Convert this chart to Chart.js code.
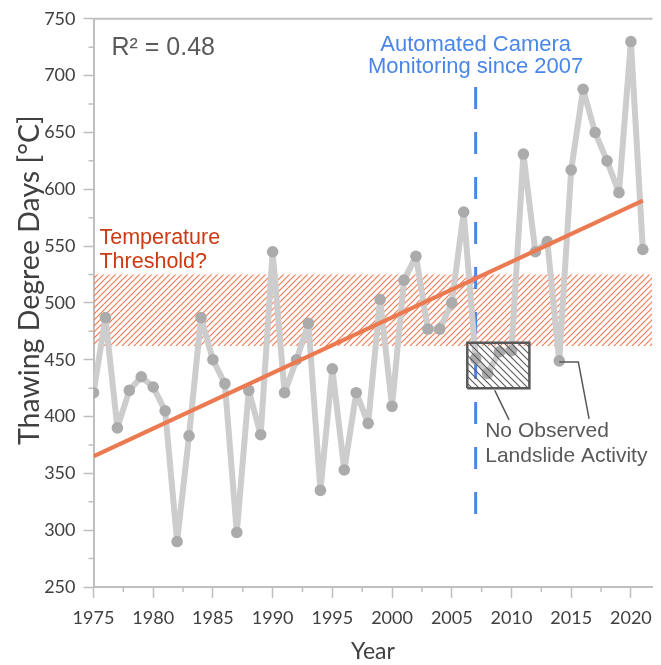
<!DOCTYPE html>
<html>
<head>
<title>Thawing Degree Days</title>
<script src="https://cdn.jsdelivr.net/npm/chart.js"></script>
<style>
  html, body { margin: 0; padding: 0; background: #fff; }
</style>
</head>
<body>
<canvas id="myChart" width="661" height="665"></canvas>
<script>
// values
const years = [1975, 1976, 1977, 1978, 1979, 1980, 1981, 1982, 1983, 1984,
               1985, 1986, 1987, 1988, 1989, 1990, 1991, 1992, 1993, 1994,
               1995, 1996, 1997, 1998, 1999, 2000, 2001, 2002, 2003, 2004,
               2005, 2006, 2007, 2008, 2009, 2010, 2011, 2012, 2013, 2014,
               2015, 2016, 2017, 2018, 2019, 2020, 2021];
const tdd = [421, 487, 390, 423, 435, 426, 405, 290, 383, 487,
             450, 429, 298, 423, 384, 545, 421, 450, 482, 335,
             442, 353, 421, 394, 503, 409, 520, 541, 477, 477,
             500, 580, 451, 438, 457, 458, 631, 545, 554, 449,
             617, 688, 650, 625, 597, 730, 547];
const trendYears = [1975, 2021];
const trendValues = [365, 590];
const thresholdBand = [462, 525];
const noActivityYears = [2006.3, 2011.5];
const noActivityRange = [425, 465];
const cameraYear = 2007;
const cameraRange = [300, 690];
const xTicks = [1975, 1980, 1985, 1990, 1995, 2000, 2005, 2010, 2015, 2020];
const yTicks = [250, 300, 350, 400, 450, 500, 550, 600, 650, 700, 750];
const xMax = 2021.8;

const axisGray = '#bfbfbf';
const textGray = '#595959';

const ctx = document.getElementById('myChart').getContext('2d');

function hatch(color, size, width, slash) {
    const c = document.createElement('canvas');
    c.width = size; c.height = size;
    const g = c.getContext('2d');
    g.strokeStyle = color;
    g.lineWidth = width;
    g.beginPath();
    if (slash) {
        g.moveTo(0, size); g.lineTo(size, 0);
        g.moveTo(-1, 1); g.lineTo(1, -1);
        g.moveTo(size - 1, size + 1); g.lineTo(size + 1, size - 1);
    } else {
        g.moveTo(0, 0); g.lineTo(size, size);
        g.moveTo(-1, size - 1); g.lineTo(1, size + 1);
        g.moveTo(size - 1, -1); g.lineTo(size + 1, 1);
    }
    g.stroke();
    return ctx.createPattern(c, 'repeat');
}

const orangeHatch = hatch('rgba(240,110,70,0.9)', 6, 1.2, true);
const grayHatch = hatch('#595959', 7, 1.1, false);

// minor ticks, top frame, y title and the text notes
const notes = {
    id: 'notes',
    afterDraw(chart) {
        const { ctx, chartArea, scales: { x, y } } = chart;
        ctx.save();
        ctx.strokeStyle = axisGray;
        ctx.lineWidth = 2;
        ctx.beginPath();
        ctx.moveTo(chartArea.left, chartArea.top);
        ctx.lineTo(chartArea.right, chartArea.top);
        ctx.stroke();

        ctx.lineWidth = 1.5;
        ctx.beginPath();
        for (let v = 275; v < 750; v += 50) {
            const py = y.getPixelForValue(v);
            ctx.moveTo(chartArea.left - 5, py);
            ctx.lineTo(chartArea.left, py);
        }
        for (let v = 1977.5; v < xMax; v += 5) {
            const px = x.getPixelForValue(v);
            ctx.moveTo(px, chartArea.bottom);
            ctx.lineTo(px, chartArea.bottom + 5);
        }
        ctx.stroke();

        // y axis title, sits a little above the middle like the original
        ctx.save();
        ctx.translate(30, y.getPixelForValue(520));
        ctx.rotate(-Math.PI / 2);
        ctx.textAlign = 'center';
        ctx.textBaseline = 'middle';
        ctx.fillStyle = '#404040';
        ctx.font = '28.5px Lato';
        ctx.fillText('Thawing Degree Days [\u00B0C]', 0, 0);
        ctx.restore();

        ctx.textBaseline = 'alphabetic';
        ctx.textAlign = 'left';
        ctx.fillStyle = textGray;
        ctx.font = '25px "Liberation Sans"';
        ctx.fillText('R\u00B2 = 0.48', x.getPixelForValue(1976.5), y.getPixelForValue(718));

        ctx.fillStyle = '#cc3a12';
        ctx.font = '21.5px "Liberation Sans"';
        ctx.fillText('Temperature', x.getPixelForValue(1975.5), y.getPixelForValue(552));
        ctx.fillText('Threshold?', x.getPixelForValue(1975.5), y.getPixelForValue(531));

        ctx.fillStyle = textGray;
        ctx.font = '21px "Liberation Sans"';
        ctx.fillText('No Observed', x.getPixelForValue(2007.8), y.getPixelForValue(382));
        ctx.fillText('Landslide Activity', x.getPixelForValue(2007.8), y.getPixelForValue(360));

        ctx.textAlign = 'center';
        ctx.fillStyle = '#4a86e8';
        ctx.font = '22px "Liberation Sans"';
        ctx.fillText('Automated Camera', x.getPixelForValue(cameraYear), y.getPixelForValue(722));
        ctx.fillText('Monitoring since 2007', x.getPixelForValue(cameraYear), y.getPixelForValue(702));
        ctx.restore();
    }
};

const [bx0, bx1] = noActivityYears;
const [by0, by1] = noActivityRange;

const myChart = new Chart(ctx, {
    type: 'scatter',
    data: {
        datasets: [
            {
                // threshold band
                data: [{ x: 1975, y: thresholdBand[1] }, { x: xMax, y: thresholdBand[1] }],
                showLine: true,
                borderColor: 'transparent',
                backgroundColor: orangeHatch,
                fill: { value: thresholdBand[0] },
                pointRadius: 0,
                order: 10
            },
            {
                data: [{ x: cameraYear, y: cameraRange[1] }, { x: cameraYear, y: cameraRange[0] }],
                showLine: true,
                borderColor: '#4a86e8',
                borderWidth: 3,
                borderDash: [22, 23],
                pointRadius: 0,
                order: 9
            },
            {
                data: years.map((yr, i) => ({ x: yr, y: tdd[i] })),
                showLine: true,
                borderColor: '#cdcdcd',
                borderWidth: 6,
                borderJoinStyle: 'round',
                borderCapStyle: 'round',
                pointRadius: 5.8,
                pointBackgroundColor: '#ababab',
                pointBorderWidth: 0,
                order: 8
            },
            {
                data: trendYears.map((yr, i) => ({ x: yr, y: trendValues[i] })),
                showLine: true,
                borderColor: '#ec7a50',
                borderWidth: 4,
                pointRadius: 0,
                order: 7
            },
            {
                // box around the quiet years
                data: [{ x: bx0, y: by0 }, { x: bx0, y: by1 }, { x: bx1, y: by1 },
                       { x: bx1, y: by0 }, { x: bx0, y: by0 }],
                showLine: true,
                borderColor: textGray,
                borderWidth: 2.5,
                borderJoinStyle: 'miter',
                backgroundColor: grayHatch,
                fill: 'shape',
                pointRadius: 0,
                order: 6
            },
            {
                data: [{ x: 2008.6, y: 423 }, { x: 2009.8, y: 397 }],
                showLine: true,
                borderColor: textGray,
                borderWidth: 1.5,
                pointRadius: 0,
                order: 5
            },
            {
                data: [{ x: 2014, y: 448 }, { x: 2015.6, y: 448 }, { x: 2016.5, y: 398 }],
                showLine: true,
                borderColor: textGray,
                borderWidth: 1.5,
                pointRadius: 0,
                order: 5
            }
        ]
    },
    options: {
        responsive: false,
        animation: false,
        layout: { padding: { top: 18, right: 0, left: 0, bottom: 0 } },
        plugins: { legend: { display: false }, tooltip: { enabled: false } },
        scales: {
            x: {
                type: 'linear',
                min: 1975,
                max: xMax,
                afterBuildTicks: s => { s.ticks = xTicks.map(v => ({ value: v })); },
                afterFit: s => { s.height = 78; },
                ticks: {
                    font: { family: 'Lato', size: 18 },
                    color: '#404040',
                    padding: 9,
                    maxRotation: 0,
                    autoSkip: false,
                    callback: v => String(v)
                },
                grid: { drawOnChartArea: false, tickLength: 11, color: axisGray, tickWidth: 1.5 },
                border: { color: axisGray, width: 2 },
                title: {
                    display: true,
                    text: 'Year',
                    font: { family: 'Lato', size: 23 },
                    color: '#404040',
                    padding: { top: 0, bottom: 0 }
                }
            },
            y: {
                min: 250,
                max: 750,
                afterBuildTicks: s => { s.ticks = yTicks.map(v => ({ value: v })); },
                afterFit: s => { s.width = 93.5; },
                ticks: {
                    font: { family: 'Lato', size: 18 },
                    color: '#404040',
                    padding: 8
                },
                grid: { drawOnChartArea: false, tickLength: 10, color: axisGray, tickWidth: 1.5 },
                border: { color: axisGray, width: 2 }
            }
        }
    },
    plugins: [notes]
});
</script>
</body>
</html>
